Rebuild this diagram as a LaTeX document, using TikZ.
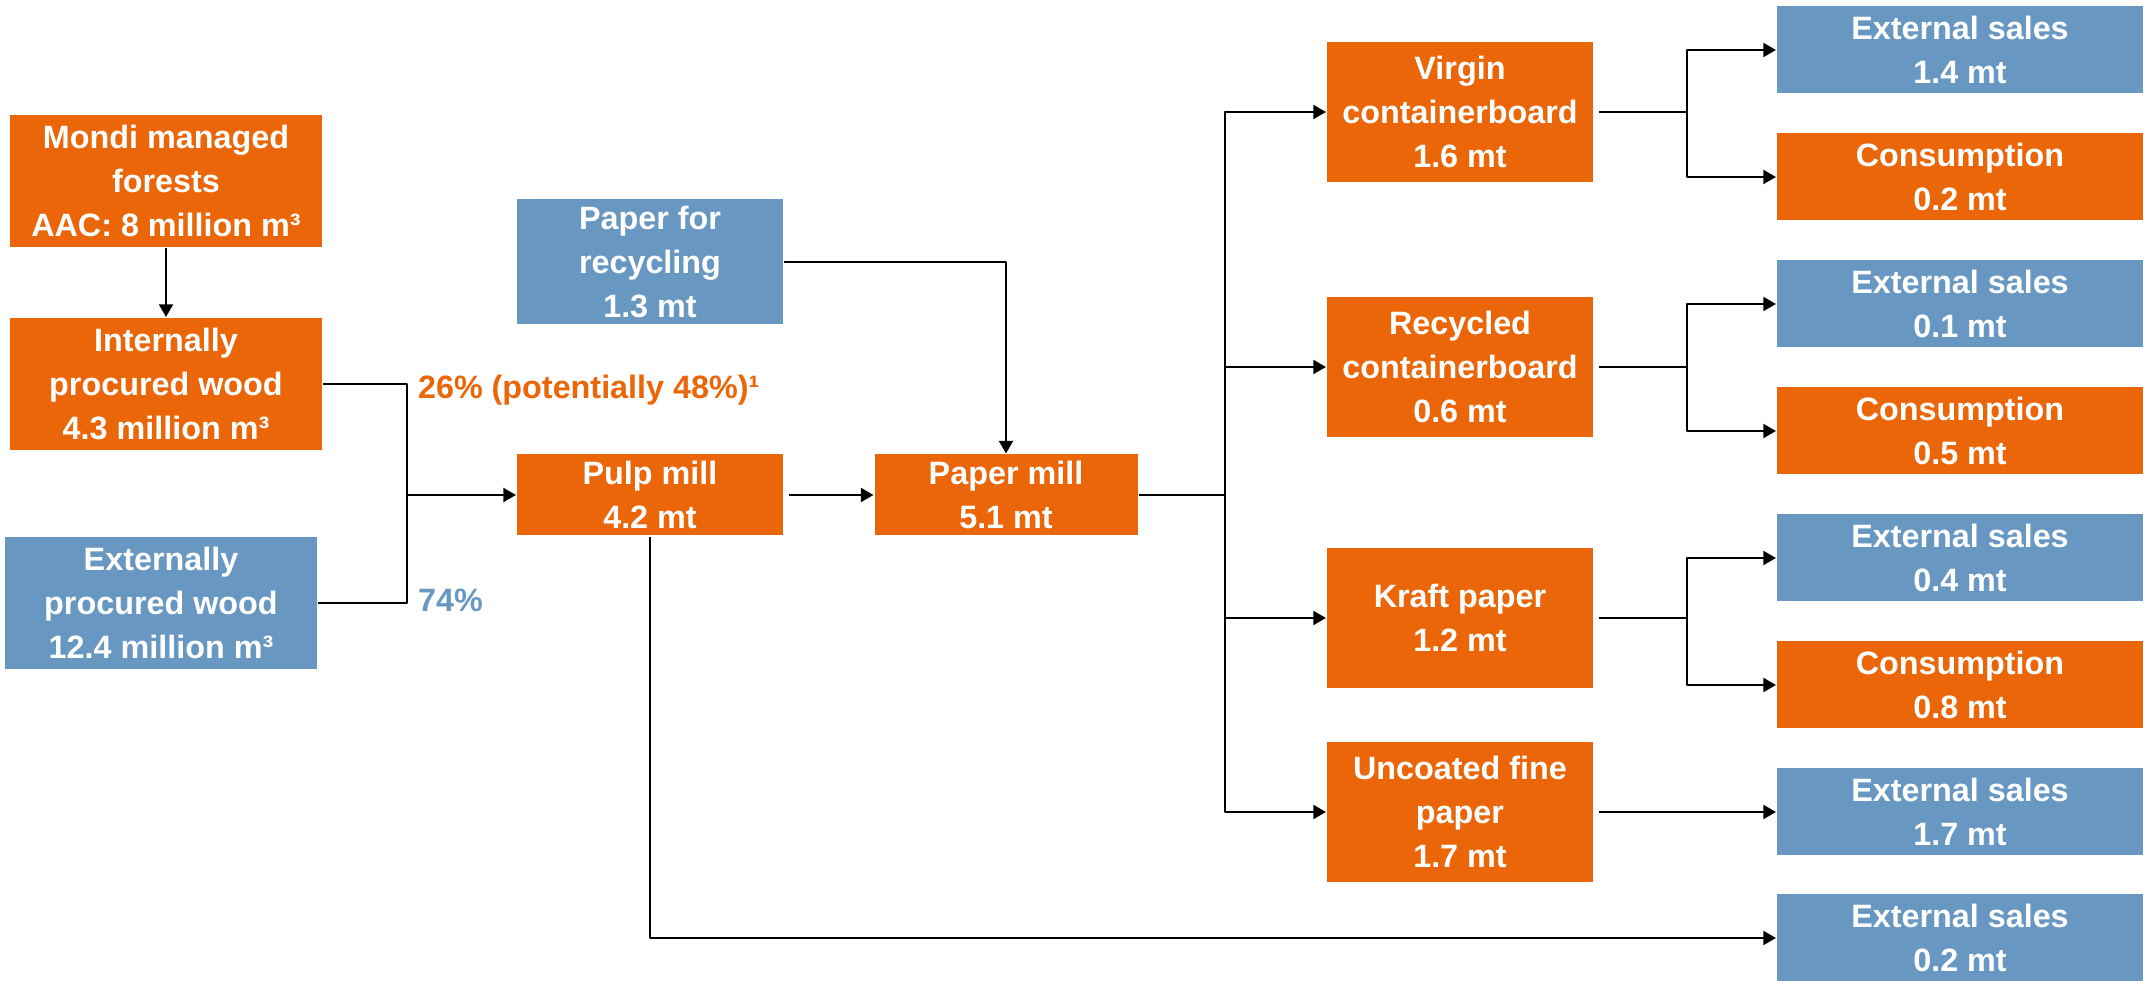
\documentclass[tikz,border=0pt]{standalone}
\usepackage{fontspec}
\setmainfont{Liberation Sans}
\usetikzlibrary{arrows.meta}
\definecolor{mondiorange}{HTML}{EB6608}
\definecolor{mondiblue}{HTML}{6897C2}
\tikzset{
  flowbox/.style={text=white, align=center, inner sep=0pt, minimum width=26.6mm, minimum height=14mm},
  orangebox/.style={flowbox, fill=mondiorange},
  bluebox/.style={flowbox, fill=mondiblue},
  leftbox/.style={minimum width=31.2mm, minimum height=13.2mm},
  millbox/.style={minimum height=8.1mm},
  endbox/.style={minimum width=36.6mm, minimum height=8.7mm},
}
\begin{document}
\begin{tikzpicture}[font=\fontsize{9.2}{12.4}\selectfont\bfseries, line join=round, line width=0.6pt, >={Triangle[length=3.6pt,width=4pt]}, x=0.1mm, y=-0.1mm]
\useasboundingbox (0,0) rectangle (2150,981);
% wood sources
\node[orangebox, leftbox] (forests) at (166,181) {Mondi managed\\forests\\AAC: 8 million m³};
\node[orangebox, leftbox] (intwood) at (166,384) {Internally\\procured wood\\4.3 million m³};
\node[bluebox, leftbox] (extwood) at (161,603) {Externally\\procured wood\\12.4 million m³};
\node[bluebox, minimum height=12.5mm] (recpaper) at (650,262) {Paper for\\recycling\\1.3 mt};
% mills
\node[orangebox, millbox] (pulp) at (650,495) {Pulp mill\\4.2 mt};
\node[orangebox, millbox, minimum width=26.3mm] (papermill) at (1006,495) {Paper mill\\5.1 mt};
% products
\node[orangebox] (virgin) at (1460,112) {Virgin\\containerboard\\1.6 mt};
\node[orangebox] (recycled) at (1460,367) {Recycled\\containerboard\\0.6 mt};
\node[orangebox] (kraft) at (1460,618) {Kraft paper\\1.2 mt};
\node[orangebox] (uncoated) at (1460,812) {Uncoated fine\\paper\\1.7 mt};
% destinations
\node[bluebox, endbox] (es1) at (1960,50) {External sales\\1.4 mt};
\node[orangebox, endbox] (con1) at (1960,177) {Consumption\\0.2 mt};
\node[bluebox, endbox] (es2) at (1960,304) {External sales\\0.1 mt};
\node[orangebox, endbox] (con2) at (1960,431) {Consumption\\0.5 mt};
\node[bluebox, endbox] (es3) at (1960,558) {External sales\\0.4 mt};
\node[orangebox, endbox] (con3) at (1960,685) {Consumption\\0.8 mt};
\node[bluebox, endbox] (es4) at (1960,812) {External sales\\1.7 mt};
\node[bluebox, endbox] (es5) at (1960,938) {External sales\\0.2 mt};
% shares
\node[anchor=west, text=mondiorange, inner sep=0pt] (shareint) at (417,390) {26\% (potentially 48\%)¹};
\node[anchor=west, text=mondiblue, inner sep=0pt] (shareext) at (417,600) {74\%};
\path (407,495) coordinate (woodjoin) (1225,495) coordinate (trunk);
% connectors
\draw[->] (forests) -- (intwood);
\draw (intwood.east) -| (woodjoin) |- (extwood.east);
\draw[->] (woodjoin) -- (pulp.west);
\draw[->] (recpaper.east) -| (papermill.north);
\draw[->, shorten <=1.5pt] (pulp.east) -- (papermill.west);
\draw (papermill.east) -- (trunk);
\foreach \p in {virgin, recycled, kraft, uncoated}{
\draw[->] (trunk) |- (\p.west);
}
\foreach \p/\a/\b in {virgin/es1/con1, recycled/es2/con2, kraft/es3/con3}{
\draw[->, shorten <=1.5pt] (\p.east) -- ++(93,0) |- (\a.west);
\draw[->, shorten <=1.5pt] (\p.east) -- ++(93,0) |- (\b.west);
}
\draw[->, shorten <=1.5pt] (uncoated.east) -- (es4.west);
\draw[->] (pulp.south) |- (es5.west);
\end{tikzpicture}
\end{document}
